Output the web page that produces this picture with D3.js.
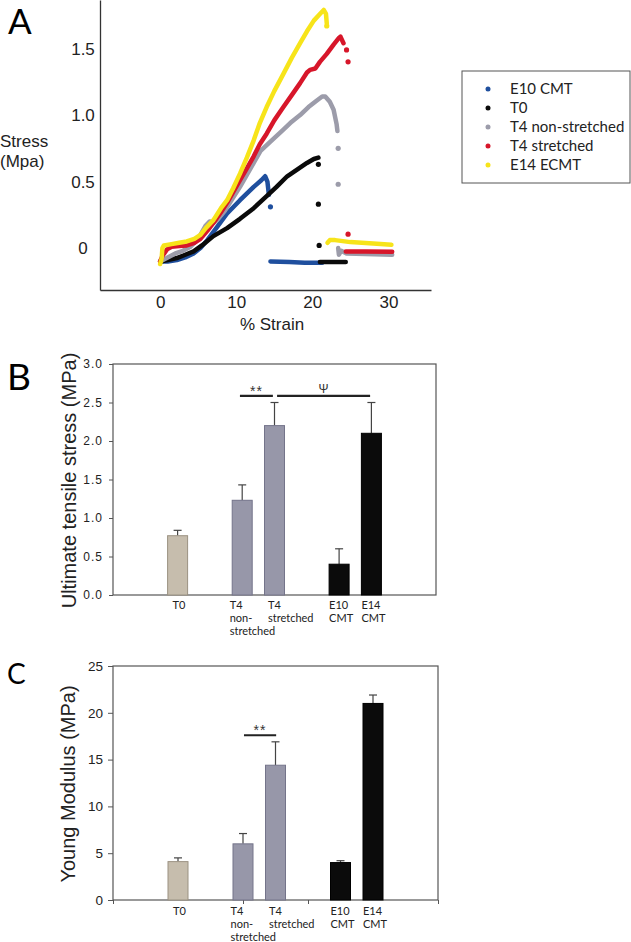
<!DOCTYPE html>
<html>
<head>
<meta charset="utf-8">
<script src="https://cdn.jsdelivr.net/npm/d3@7"></script>
<style>
  body { margin: 0; background: #fff; }
  svg { display: block; }
</style>
</head>
<body>
<script>
// ---- panel A : stress / strain curves  [strain %, stress MPa]
const e10Curve = [[0,-0.1],[1,-0.1],[2.2,-0.09],[3.3,-0.07],[4.4,-0.04],[5.3,0],[6.2,0.06],[7.5,0.16],[8.8,0.26],[10.5,0.36],[12.3,0.46],[13.3,0.51],[13.8,0.54],[14.1,0.5],[14.3,0.4]]
const e10Dots = [[14.5,0.31]]
const e10Tail = [[14.5,-0.1],[17,-0.105],[19,-0.11],[21.3,-0.11]]

const t0Curve = [[0.2,-0.1],[1,-0.09],[2.2,-0.075],[3.3,-0.05],[4.4,-0.025],[5.5,0.02],[7,0.09],[8.8,0.15],[10.5,0.22],[12.3,0.3],[14,0.39],[15.3,0.46],[16.7,0.54],[18,0.59],[19.3,0.64],[20.2,0.67],[20.8,0.68]]
const t0Dots = [[20.8,0.63],[20.8,0.33],[20.9,0.02]]
const t0Tail = [[21,-0.105],[22.5,-0.105],[24.4,-0.105]]

const t4nCurve = [[0,-0.1],[1,-0.07],[2,-0.04],[3,-0.02],[4,0.01],[5,0.07],[6,0.17],[6.5,0.2],[7,0.19],[7.5,0.21],[8.5,0.28],[9.5,0.37],[10.5,0.46],[11.4,0.55],[12.3,0.64],[13.2,0.73],[14.5,0.8],[16.2,0.89],[17.3,0.95],[18.4,1.0],[19.5,1.06],[20.6,1.11],[21.3,1.14],[21.7,1.14],[22.3,1.1],[22.8,1.04],[23.2,0.93],[23.3,0.88]]
const t4nDots = [[23.4,0.75],[23.4,0.48]]
const t4nTail = [[23.4,0.0],[23.5,-0.05],[23.8,-0.02],[24.5,-0.04],[27,-0.045],[30.5,-0.05]]

const t4sCurve = [[0,-0.1],[0.3,-0.06],[0.9,-0.01],[1.5,0.01],[2.5,0.015],[3.5,0.02],[4.5,0.04],[5.3,0.07],[6.2,0.13],[7,0.19],[8,0.27],[8.8,0.34],[9.6,0.42],[10.5,0.51],[11.4,0.6],[12.3,0.69],[13.1,0.78],[14,0.86],[15,0.96],[16.2,1.06],[17.3,1.15],[18.4,1.24],[19.3,1.32],[19.7,1.34],[20.4,1.35],[21,1.4],[21.9,1.46],[22.8,1.53],[23.5,1.58],[23.7,1.59],[24.1,1.54]]
const t4sDots = [[24.5,1.49],[24.7,1.4],[24.7,0.105]]
const t4sTail = [[24.4,-0.025],[27,-0.025],[30.5,-0.028]]

const e14Curve = [[0,-0.12],[0.2,-0.08],[0.3,0],[0.5,0.02],[1.5,0.03],[2.5,0.04],[3.5,0.05],[4.5,0.07],[5.3,0.1],[6,0.15],[7,0.21],[8,0.3],[8.8,0.36],[9.6,0.45],[10.5,0.56],[11.4,0.68],[12.3,0.81],[13.1,0.94],[14,1.06],[15,1.18],[16.2,1.31],[17.3,1.43],[18.4,1.54],[19.3,1.63],[20.2,1.71],[21,1.76],[21.5,1.79],[21.8,1.76],[21.9,1.69]]
const e14Dots = [[21.9,1.67]]
const e14Tail = [[22,0.04],[22.3,0.06],[23,0.06],[25,0.045],[28,0.035],[30.4,0.025]]

const seriesNames = ["E10 CMT", "T0", "T4 non-stretched", "T4 stretched", "E14 ECMT"]
const seriesColors = ["#1f4f9e", "#0a0a0a", "#9c9caa", "#d7162a", "#f7e41a"]
const seriesData = [
    {curve: e10Curve, dots: e10Dots, tail: e10Tail},
    {curve: t0Curve, dots: t0Dots, tail: t0Tail},
    {curve: t4nCurve, dots: t4nDots, tail: t4nTail},
    {curve: t4sCurve, dots: t4sDots, tail: t4sTail},
    {curve: e14Curve, dots: e14Dots, tail: e14Tail}
]
const strainTicks = [0, 10, 20, 30]
const stressTicks = [0, 0.5, 1.0, 1.5]

// ---- panels B / C : bars
const groups = [["T0"], ["T4", "non-", "stretched"], ["T4", "stretched"], ["E10", "CMT"], ["E14", "CMT"]]
const groupSlot = [1, 3, 4, 6, 7]
const barColors = ["#c6bdad", "#9797a9", "#9797a9", "#0b0b0b", "#0b0b0b"]
const barStroke = ["#9b9282", "#74748a", "#74748a", "#000", "#000"]
const utsValues = [0.77, 1.23, 2.2, 0.4, 2.1]
const utsErrors = [0.07, 0.2, 0.3, 0.2, 0.4]
const utsTicks = [0, 0.5, 1.0, 1.5, 2.0, 2.5, 3.0]
const utsSig = [{from: 2.93, to: 3.95, y: 2.585, label: "**"}, {from: 4.08, to: 6.96, y: 2.585, label: "Ψ"}]
const youngValues = [4.1, 6.0, 14.4, 4.0, 21.0]
const youngErrors = [0.4, 1.1, 2.5, 0.2, 0.9]
const youngTicks = [0, 5, 10, 15, 20, 25]
const youngSig = [{from: 3.03, to: 4.02, y: 17.6, label: "**"}]
const labelDx = [-5, -12.5, -6.5, -10, -10]

const W = 631, H = 942
const arial = "'Liberation Sans', Arial, sans-serif"
const myriad = "Lato, 'Open Sans', sans-serif"

const svg = d3.select("body").append("svg")
    .attr("width", W)
    .attr("height", H)
    .attr("viewBox", `0 0 ${W} ${H}`)

// ================= panel A
const xA = d3.scaleLinear().domain([-7.9, 35.6]).range([100, 431])
const yA = d3.scaleLinear().domain([-0.315, 1.865]).range([290, 0])
const lineA = d3.line().x(d => xA(d[0])).y(d => yA(d[1]))

svg.append("text").attr("x", 8).attr("y", 34)
    .style("font-family", myriad).style("font-size", "35px").text("A")

const gA = svg.append("g")

gA.append("g")
    .attr("transform", "translate(0,290)")
    .call(d3.axisBottom(xA).tickValues(strainTicks).tickSize(0).tickSizeOuter(0).tickPadding(6))
    .call(g => g.select(".domain").attr("stroke", "#333").attr("stroke-width", 1.3))
    .call(g => g.selectAll("text").style("font-family", arial).style("font-size", "17px").attr("fill", "#222"))

gA.append("g")
    .attr("transform", "translate(100,0)")
    .call(d3.axisLeft(yA).tickValues(stressTicks).tickSize(0).tickSizeOuter(0)
        .tickFormat(d => d === 0 ? "0" : d.toFixed(1)))
    .call(g => g.select(".domain").attr("stroke", "#333").attr("stroke-width", 1.3))
    .call(g => g.selectAll("text")
        .attr("x", -17)
        .style("text-anchor", "middle")
        .style("font-family", arial).style("font-size", "17px").attr("fill", "#222"))

gA.append("text").attr("x", 0).attr("y", 147)
    .style("font-family", arial).style("font-size", "17px").attr("fill", "#222").text("Stress")
gA.append("text").attr("x", 0).attr("y", 167)
    .style("font-family", arial).style("font-size", "17px").attr("fill", "#222").text("(Mpa)")
gA.append("text").attr("x", 272).attr("y", 330).attr("text-anchor", "middle")
    .style("font-family", arial).style("font-size", "17px").attr("fill", "#222").text("% Strain")

seriesData.forEach((s, i) => {
    const color = seriesColors[i]
    const g = gA.append("g")
    ;[s.curve, s.tail].forEach(seg => {
        g.append("path")
            .attr("d", lineA(seg))
            .attr("fill", "none")
            .attr("stroke", color)
            .attr("stroke-width", 4.5)
            .attr("stroke-linecap", "round")
            .attr("stroke-linejoin", "round")
    })
    g.selectAll("circle")
        .data(s.dots)
        .join("circle")
        .attr("cx", d => xA(d[0]))
        .attr("cy", d => yA(d[1]))
        .attr("r", 2.6)
        .attr("fill", color)
})

// legend
const legend = svg.append("g").attr("transform", "translate(462,71)")
legend.append("rect")
    .attr("width", 168).attr("height", 112)
    .attr("fill", "#fff").attr("stroke", "#555").attr("stroke-width", 1)
seriesNames.forEach((name, i) => {
    const row = legend.append("g").attr("transform", `translate(0,${18 + i * 19})`)
    row.append("circle").attr("cx", 26).attr("cy", 0).attr("r", 2.5).attr("fill", seriesColors[i])
    row.append("text").attr("x", 48).attr("y", 0).attr("dy", "0.36em")
        .style("font-family", myriad).style("font-size", "15px").attr("fill", "#222").text(name)
})

// ================= bar panels
const barPanel = ({letter, letterY, letterSize, top, bottom, right, yMax, ticks, tickFmt, tickSize, tickPad, tickFont, tickSpacing,
                   values, errors, sig, title, titleX, xTicks, labelY}) => {
    const slot = d3.scaleLinear().domain([-1, 9]).range([113, right])
    const y = d3.scaleLinear().domain([0, yMax]).range([bottom, top])
    const g = svg.append("g")

    svg.append("text").attr("x", 7).attr("y", letterY)
        .style("font-family", myriad).style("font-size", letterSize).text(letter)

    g.append("rect")
        .attr("x", 113).attr("y", top)
        .attr("width", right - 113).attr("height", bottom - top)
        .attr("fill", "none").attr("stroke", "#555").attr("stroke-width", 1.2)

    g.append("g")
        .attr("transform", "translate(113,0)")
        .call(d3.axisLeft(y).tickValues(ticks).tickSize(tickSize).tickPadding(tickPad).tickFormat(tickFmt))
        .call(a => a.select(".domain").remove())
        .call(a => a.selectAll("line").attr("stroke", "#555"))
        .call(a => a.selectAll("text")
            .style("font-family", arial).style("font-size", tickFont)
            .style("letter-spacing", tickSpacing).attr("fill", "#222"))

    if (xTicks) {
        g.append("g")
            .attr("transform", `translate(0,${bottom})`)
            .call(d3.axisBottom(slot).tickValues(xTicks).tickSize(4).tickFormat(""))
            .call(a => a.select(".domain").remove())
            .call(a => a.selectAll("line").attr("stroke", "#555"))
    }

    // error bars (upper only)
    const err = g.selectAll("g.err")
        .data(values)
        .join("g")
        .attr("class", "err")
    err.append("line")
        .attr("x1", (d, i) => slot(groupSlot[i])).attr("x2", (d, i) => slot(groupSlot[i]))
        .attr("y1", d => y(d)).attr("y2", (d, i) => y(d + errors[i]))
        .attr("stroke", "#444").attr("stroke-width", 1.2)
    err.append("line")
        .attr("x1", (d, i) => slot(groupSlot[i]) - 4).attr("x2", (d, i) => slot(groupSlot[i]) + 4)
        .attr("y1", (d, i) => y(d + errors[i])).attr("y2", (d, i) => y(d + errors[i]))
        .attr("stroke", "#444").attr("stroke-width", 1.2)

    g.selectAll("rect.bar")
        .data(values)
        .join("rect")
        .attr("class", "bar")
        .attr("x", (d, i) => slot(groupSlot[i]) - 10)
        .attr("y", d => y(d))
        .attr("width", 20)
        .attr("height", d => bottom - y(d))
        .attr("fill", (d, i) => barColors[i])
        .attr("stroke", (d, i) => barStroke[i])
        .attr("stroke-width", 1)

    // significance brackets
    sig.forEach(s => {
        g.append("line")
            .attr("x1", slot(s.from)).attr("x2", slot(s.to))
            .attr("y1", y(s.y)).attr("y2", y(s.y))
            .attr("stroke", "#222").attr("stroke-width", 2.2)
        g.append("text")
            .attr("x", (slot(s.from) + slot(s.to)) / 2)
            .attr("y", y(s.y) - (s.label === "Ψ" ? 3 : 0))
            .attr("text-anchor", "middle")
            .style("font-family", arial).style("font-size", s.label === "Ψ" ? "12px" : "14px")
            .style("letter-spacing", s.label === "Ψ" ? "0px" : "1px")
            .attr("fill", "#333")
            .text(s.label)
    })

    g.append("text")
        .attr("transform", `translate(${titleX},${(top + bottom) / 2 + 1}) rotate(-90)`)
        .attr("text-anchor", "middle")
        .style("font-family", arial).style("font-size", "20px").attr("fill", "#222")
        .text(title)

    groups.forEach((lines, i) => {
        const t = g.append("text")
            .attr("x", slot(groupSlot[i]) + labelDx[i])
            .attr("y", labelY)
            .style("font-family", myriad).style("font-size", "11px").attr("fill", "#222")
        lines.forEach((ln, k) => {
            t.append("tspan")
                .attr("x", slot(groupSlot[i]) + labelDx[i])
                .attr("y", labelY + k * 13.2)
                .text(ln)
        })
    })
}

barPanel({
    letter: "B", letterY: 390, letterSize: "37px",
    top: 364, bottom: 595, right: 436, yMax: 3, ticks: utsTicks, tickFmt: d3.format(".1f"),
    tickSize: 4, tickPad: 6, tickFont: "12px", tickSpacing: "1px",
    values: utsValues, errors: utsErrors, sig: utsSig,
    title: "Ultimate tensile stress (MPa)", titleX: 76, xTicks: null, labelY: 609
})

barPanel({
    letter: "C", letterY: 684, letterSize: "28px",
    top: 666, bottom: 900, right: 438, yMax: 25, ticks: youngTicks, tickFmt: d3.format("d"),
    tickSize: 5, tickPad: 5, tickFont: "13.5px", tickSpacing: "0px",
    values: youngValues, errors: youngErrors, sig: youngSig,
    title: "Young Modulus (MPa)", titleX: 75, xTicks: [-1, 3, 5, 9], labelY: 915
})
</script>
</body>
</html>
